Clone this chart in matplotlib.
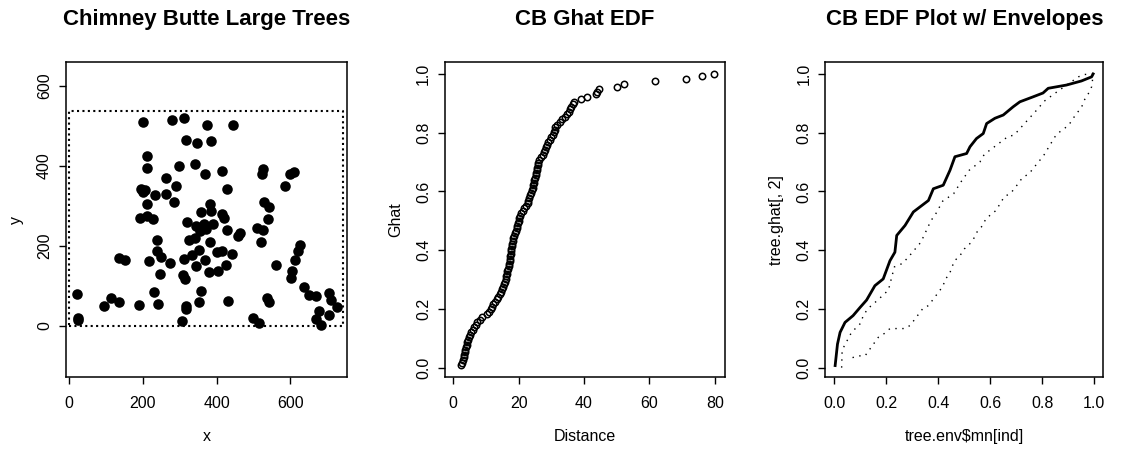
import numpy as np
import matplotlib
matplotlib.use("Agg")
import matplotlib.pyplot as plt

plt.rcParams['font.family'] = ['Liberation Sans', 'DejaVu Sans']

# tree locations (Chimney Butte, large trees)
tree_x = [200, 280, 312, 373, 444, 317, 348, 385, 211, 211, 297, 341, 368, 415,
          527, 523, 600, 611, 587, 262, 291, 427, 195, 200, 205, 234, 264, 284,
          212, 382, 359, 384, 529, 541, 539, 191, 211, 227, 415, 420, 427, 320,
          343, 365, 391, 354, 371, 464, 457, 511, 525, 521, 238, 325, 341, 382,
          627, 620, 613, 606, 601, 136, 151, 216, 238, 250, 273, 311, 332, 353,
          368, 344, 400, 416, 442, 425, 245, 309, 313, 379, 404, 560, 20, 114,
          136, 93, 188, 229, 241, 358, 353, 318, 316, 431, 536, 543, 636, 650,
          671, 706, 711, 727, 704, 677, 669, 684, 23, 25, 305, 498, 514]
tree_y = [511, 516, 520, 502, 502, 465, 457, 462, 425, 395, 401, 404, 380, 387,
          392, 379, 380, 385, 350, 371, 350, 343, 342, 336, 340, 327, 329, 311,
          304, 306, 285, 288, 311, 298, 268, 271, 276, 267, 279, 269, 241, 261,
          251, 256, 254, 238, 242, 232, 224, 245, 241, 210, 215, 214, 219, 209,
          203, 188, 164, 137, 120, 170, 164, 163, 188, 172, 157, 168, 177, 189,
          165, 151, 184, 187, 180, 153, 130, 128, 118, 134, 137, 153, 80, 69,
          60, 49, 51, 84, 56, 87, 60, 49, 43, 62, 69, 61, 97, 78,
          74, 83, 66, 47, 26, 36, 17, 2, 19, 14, 12, 19, 8]
window_x = [0, 743]
window_y = [0, 538]

# sorted nearest-neighbour distances
nn_dist = [2.4, 2.7, 3.0, 3.2, 3.4, 3.5, 3.7, 3.9, 4.1, 4.3, 4.6, 4.8, 5.1, 5.5,
           6.0, 6.5, 7.0, 7.4, 8.1, 8.8, 10.2, 11.0, 11.5, 11.9, 12.2, 12.8, 13.3,
           13.8, 14.3, 14.6, 14.9, 15.2, 15.5, 15.8, 16.0, 16.2, 16.4, 16.6, 16.8,
           17.0, 17.2, 17.3, 17.4, 17.5, 17.6, 17.7, 17.8, 17.9, 18.0, 18.2, 18.3,
           18.5, 18.8, 19.1, 19.4, 19.6, 19.8, 20.0, 20.2, 20.4, 20.6, 21.2, 21.8,
           22.4, 22.8, 23.0, 23.3, 23.6, 23.9, 24.1, 24.3, 24.5, 24.6, 24.8, 25.0,
           25.2, 25.4, 25.5, 25.7, 25.8, 26.0, 26.2, 26.8, 27.4, 27.8, 28.1, 28.4,
           28.7, 29.0, 29.5, 30.0, 30.4, 30.8, 31.0, 31.2, 31.8, 32.6, 33.4, 34.2,
           34.8, 35.3, 35.8, 36.1, 36.5, 37.0, 39.0, 41.0, 43.6, 44.0, 44.5, 50.0,
           52.3, 61.7, 71.2, 76.1, 79.8]
ghat = np.arange(1, len(nn_dist) + 1) / len(nn_dist)

# observed G against mean of simulated G
obs_mn = [0.003, 0.012, 0.022, 0.041, 0.072, 0.099, 0.124, 0.156, 0.188, 0.214,
          0.233, 0.24, 0.272, 0.304, 0.362, 0.381, 0.419, 0.445, 0.464, 0.509,
          0.522, 0.547, 0.573, 0.586, 0.618, 0.65, 0.688, 0.714, 0.765, 0.803,
          0.823, 0.893, 0.951, 0.99, 0.996]
obs_g = [0.007, 0.08, 0.12, 0.154, 0.177, 0.205, 0.23, 0.279, 0.302, 0.364,
         0.393, 0.45, 0.484, 0.53, 0.569, 0.609, 0.621, 0.672, 0.718, 0.729,
         0.752, 0.78, 0.797, 0.831, 0.849, 0.86, 0.888, 0.905, 0.922, 0.935,
         0.951, 0.962, 0.976, 0.99, 1.0]

# upper envelope
hi_mn = [0.028, 0.03, 0.066, 0.1, 0.111, 0.128, 0.167, 0.208, 0.231, 0.263,
         0.295, 0.333, 0.372, 0.388, 0.417, 0.459, 0.487, 0.519, 0.56, 0.577,
         0.667, 0.692, 0.785, 0.806, 0.849, 0.939, 0.963, 1.0]
hi_g = [0.0, 0.06, 0.12, 0.15, 0.176, 0.2, 0.23, 0.264, 0.343, 0.355,
        0.387, 0.427, 0.501, 0.52, 0.567, 0.592, 0.632, 0.672, 0.7, 0.726,
        0.786, 0.792, 0.883, 0.906, 0.934, 0.99, 0.998, 1.0]

# lower envelope
lo_mn = [0.07, 0.09, 0.118, 0.169, 0.192, 0.214, 0.24, 0.272, 0.292, 0.342,
         0.362, 0.417, 0.428, 0.443, 0.462, 0.481, 0.5, 0.524, 0.538, 0.551,
         0.571, 0.583, 0.622, 0.654, 0.679, 0.707, 0.724, 0.749, 0.785, 0.804,
         0.849, 0.868, 0.903, 0.914, 0.952, 0.962, 0.976, 0.99, 0.996]
lo_g = [0.034, 0.04, 0.04, 0.103, 0.116, 0.133, 0.133, 0.133, 0.144, 0.203,
        0.211, 0.276, 0.302, 0.319, 0.364, 0.378, 0.404, 0.424, 0.442, 0.465,
        0.484, 0.507, 0.535, 0.582, 0.594, 0.626, 0.647, 0.66, 0.7, 0.72,
        0.786, 0.803, 0.826, 0.843, 0.888, 0.911, 0.93, 0.956, 0.996]

fig = plt.figure(figsize=(11.47, 4.57), dpi=100)
ax1 = fig.add_axes([0.0575, 0.175, 0.245, 0.689])
ax2 = fig.add_axes([0.388, 0.175, 0.244, 0.689])
ax3 = fig.add_axes([0.7195, 0.175, 0.2424, 0.689])


def r_style(ax, title, xlabel, ylabel):
    for s in ax.spines.values():
        s.set_linewidth(1.1)
    ax.tick_params(direction='out', length=5, width=1.0, labelsize=11.5, pad=9)
    ax.tick_params(axis='y', pad=5)
    for lab in ax.get_yticklabels():
        lab.set_rotation(90)
        lab.set_va('center')
    ax.text(0.5, 1.135, title, transform=ax.transAxes, ha='center', va='center',
            fontsize=16, fontweight='bold')
    ax.set_xlabel(xlabel, fontsize=11.5)
    ax.set_ylabel(ylabel, fontsize=11.5)
    ax.xaxis.set_label_coords(0.5, -0.165)
    ax.yaxis.set_label_coords(-0.15, 0.5)


# point pattern with its window
ax1.plot([window_x[0], window_x[1], window_x[1], window_x[0], window_x[0]],
         [window_y[0], window_y[0], window_y[1], window_y[1], window_y[0]],
         color='black', lw=1.5, linestyle=(0, (1, 1.6)))
ax1.plot(tree_x, tree_y, 'o', color='black', ms=7.6, mew=0)
ax1.set_xlim(-9, 754)
ax1.set_ylim(-128, 660)
ax1.set_xticks([0, 200, 400, 600])
ax1.set_yticks([0, 200, 400, 600])
r_style(ax1, 'Chimney Butte Large Trees', 'x', 'y')

# nearest neighbour EDF
ax2.plot(nn_dist, ghat, 'o', mfc='none', mec='black', ms=4.6, mew=1.1)
ax2.set_xlim(-2.5, 83.1)
ax2.set_ylim(-0.032, 1.04)
ax2.set_xticks([0, 20, 40, 60, 80])
ax2.set_yticks([0.0, 0.2, 0.4, 0.6, 0.8, 1.0])
ax2.set_yticklabels(['0.0', '0.2', '0.4', '0.6', '0.8', '1.0'])
r_style(ax2, 'CB Ghat EDF', 'Distance', 'Ghat')

# observed EDF with simulation envelopes
ax3.plot(obs_mn, obs_g, color='black', lw=2.0)
ax3.plot(hi_mn, hi_g, color='black', lw=1.0, linestyle=(0, (1, 4)))
ax3.plot(lo_mn, lo_g, color='black', lw=1.0, linestyle=(0, (1, 4)))
ax3.set_xlim(-0.035, 1.035)
ax3.set_ylim(-0.032, 1.04)
ax3.set_xticks([0.0, 0.2, 0.4, 0.6, 0.8, 1.0])
ax3.set_xticklabels(['0.0', '0.2', '0.4', '0.6', '0.8', '1.0'])
ax3.set_yticks([0.0, 0.2, 0.4, 0.6, 0.8, 1.0])
ax3.set_yticklabels(['0.0', '0.2', '0.4', '0.6', '0.8', '1.0'])
r_style(ax3, 'CB EDF Plot w/ Envelopes', 'tree.env$mn[ind]', 'tree.ghat[, 2]')

fig.savefig('out.png', dpi=100)
